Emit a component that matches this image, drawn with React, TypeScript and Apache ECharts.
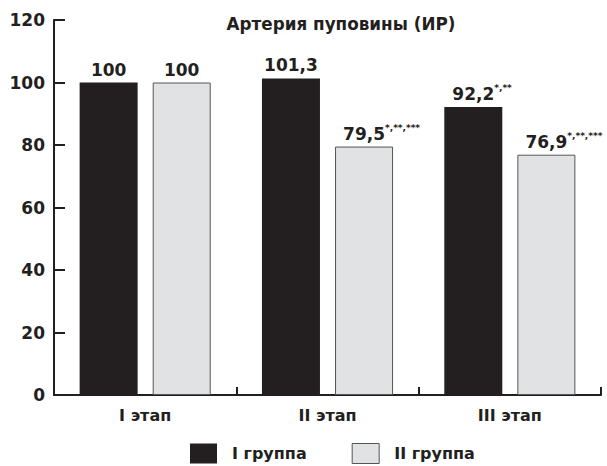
import React, { useEffect, useRef } from "react";
import * as echarts from "echarts";

const categories = ["I этап", "II этап", "III этап"];
const seriesNames = ["I группа", "II группа"];
const group1 = [100, 101.3, 92.2];
const group2 = [100, 79.5, 76.9];
const group1Marks = ["", "", "*,**"];
const group2Marks = ["", "*,**,***", "*,**,***"];
const yTicks = { min: 0, max: 120, interval: 20 };
const titleText = "Артерия пуповины (ИР)";

const FONT = "DejaVu Sans";
const INK = "#231f20";

function measure(text: string, font: string): number {
  const ctx = document.createElement("canvas").getContext("2d");
  if (!ctx) return text.length * 5;
  ctx.font = font;
  return ctx.measureText(text).width;
}

function buildData(values: number[], marks: string[]) {
  return values.map((v, i) => {
    const s = marks[i];
    const w = s ? measure(s, `bold 9px "${FONT}"`) : 0;
    return {
      value: v,
      mark: s,
      label: { offset: [w / 2, 0] },
    };
  });
}

const fmt = (v: number) => String(v).replace(".", ",");

export default function App() {
  const ref = useRef<HTMLDivElement>(null);
  useEffect(() => {
    if (!ref.current) return;
    const chart = echarts.init(ref.current, undefined, { renderer: "svg" });
    const label = {
      show: true,
      position: "top",
      distance: 3,
      formatter: (p: any) => {
        const m = p.data.mark;
        return m ? `{v|${fmt(p.value)}}{s|${m}}` : `{v|${fmt(p.value)}}`;
      },
      rich: {
        v: { fontSize: 17, fontWeight: "bold", fontFamily: FONT, color: INK, lineHeight: 20 },
        s: { fontSize: 9, fontWeight: "bold", fontFamily: FONT, color: INK, verticalAlign: "top", lineHeight: 9 },
      },
    };
    chart.setOption({
      animation: false,
      title: {
        text: titleText,
        left: 341,
        top: 15,
        textAlign: "center",
        padding: 0,
        textStyle: { fontFamily: FONT, fontSize: 16.8, fontWeight: "bold", color: INK },
      },
      legend: {
        left: 190,
        top: 443,
        padding: 0,
        itemWidth: 27,
        itemHeight: 20,
        itemGap: 45,
        icon: "rect",
        data: [
          { name: seriesNames[0], itemStyle: { color: INK, borderWidth: 0 } },
          { name: seriesNames[1], itemStyle: { color: "#e1e2e4", borderColor: "#555555", borderWidth: 1 } },
        ],
        textStyle: { fontFamily: FONT, fontSize: 16, fontWeight: "bold", color: INK, padding: [0, 0, 0, 10] },
      },
      grid: { left: 54, right: 6, top: 20, bottom: 71, containLabel: false },
      xAxis: {
        type: "category",
        data: categories,
        axisLine: { lineStyle: { color: INK, width: 2 } },
        axisTick: { show: true, inside: true, length: 8, lineStyle: { color: INK, width: 2 } },
        axisLabel: { margin: 12, fontFamily: FONT, fontSize: 16, fontWeight: "bold", color: INK },
      },
      yAxis: {
        type: "value",
        min: yTicks.min,
        max: yTicks.max,
        interval: yTicks.interval,
        axisLine: { show: true, lineStyle: { color: INK, width: 2 } },
        axisTick: { show: true, inside: true, length: 11, lineStyle: { color: INK, width: 2 } },
        splitLine: { show: false },
        axisLabel: { margin: 9, fontFamily: FONT, fontSize: 17, fontWeight: "bold", color: INK },
      },
      series: [
        {
          name: seriesNames[0],
          type: "bar",
          barWidth: 58,
          barGap: "26%",
          data: buildData(group1, group1Marks),
          itemStyle: { color: INK },
          label,
        },
        {
          name: seriesNames[1],
          type: "bar",
          barWidth: 58,
          barGap: "26%",
          data: buildData(group2, group2Marks),
          itemStyle: { color: "#e1e2e4", borderColor: "#555555", borderWidth: 1 },
          label,
        },
      ],
    });
    return () => chart.dispose();
  }, []);
  return <div ref={ref} style={{ width: 607, height: 466, position: "absolute", left: 0, top: 0 }} />;
}
